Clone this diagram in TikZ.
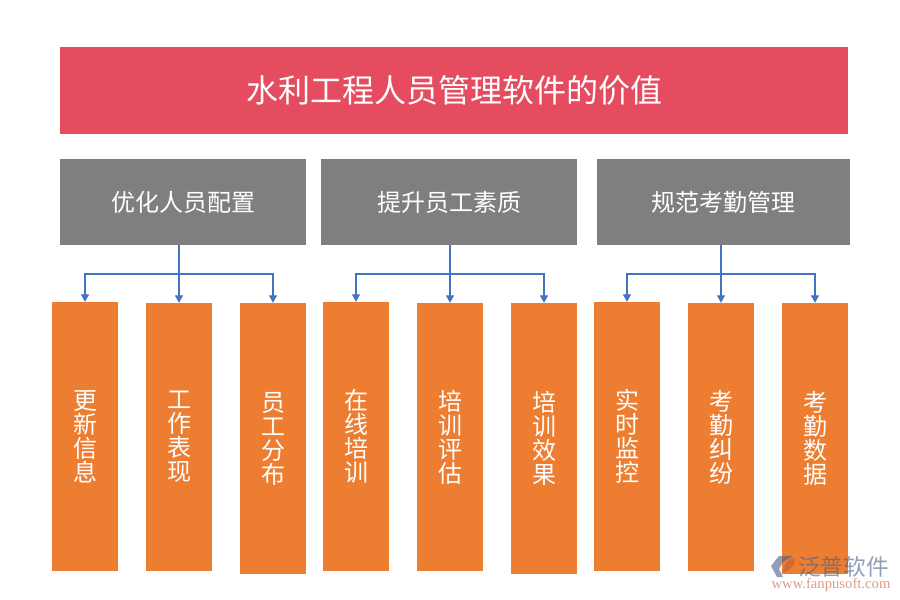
\documentclass[tikz,border=0pt]{standalone}
\usepackage{fontspec}
\setmainfont{Noto Sans CJK SC}
\setsansfont{Liberation Serif}
\usetikzlibrary{arrows.meta}
\definecolor{titlered}{RGB}{230,76,96}
\definecolor{headgray}{RGB}{127,127,127}
\definecolor{leaforange}{RGB}{237,125,49}
\definecolor{linkblue}{RGB}{68,114,196}
\definecolor{markblue}{RGB}{70,95,135}
\definecolor{markred}{RGB}{200,90,60}
\tikzset{
	headbox/.style = {fill = headgray, text = white, minimum height = 64.5pt, font = \fontsize{18}{18}\selectfont, inner sep = 0pt},
	leafbox/.style = {fill = leaforange, text = white, minimum width = 49.5pt, align = center, font = \fontsize{18}{18}\selectfont, inner sep = 0pt},
	link/.style = {draw = linkblue, line width = 0.8pt, -{Triangle[length = 5.5pt, width = 6pt]}}
}
\begin{document}
\begin{tikzpicture}[x = 0.75pt, y = -0.75pt]
		\useasboundingbox (0, 0) rectangle (900, 600);
		\fill [white] (0, 0) rectangle (900, 600);
		% Title
		\node [fill = titlered, text = white, minimum width = 591pt, minimum height = 65.25pt, inner sep = 0pt, font = \fontsize{24}{24}\selectfont] (title) at (454, 90.5) {水利工程人员管理软件的价值};
		% Heads
		\node [headbox, minimum width = 184.5pt] (headA) at (183, 202) {优化人员配置};
		\node [headbox, minimum width = 192pt] (headB) at (449, 202) {提升员工素质};
		\node [headbox, minimum width = 189.75pt] (headC) at (723.5, 202) {规范考勤管理};
		% Leaves
		\node [leafbox, minimum height = 201.75pt] (leafA) at (85, 436.5) {更\\新\\信\\息};
		\node [leafbox, minimum height = 201pt] (leafB) at (179, 437) {工\\作\\表\\现};
		\node [leafbox, minimum height = 203.25pt] (leafC) at (273, 438.5) {员\\工\\分\\布};
		\node [leafbox, minimum height = 201.75pt] (leafD) at (356, 436.5) {在\\线\\培\\训};
		\node [leafbox, minimum height = 201pt] (leafE) at (450, 437) {培\\训\\评\\估};
		\node [leafbox, minimum height = 203.25pt] (leafF) at (544, 438.5) {培\\训\\效\\果};
		\node [leafbox, minimum height = 201.75pt] (leafG) at (627, 436.5) {实\\时\\监\\控};
		\node [leafbox, minimum height = 201pt] (leafH) at (721, 437) {考\\勤\\纠\\纷};
		\node [leafbox, minimum height = 203.25pt] (leafI) at (815, 438.5) {考\\勤\\数\\据};
		% Links
		\coordinate (busA) at (179, 274);
		\coordinate (busB) at (450, 274);
		\coordinate (busC) at (721, 274);
		\draw [link] (busA |- headA.south) -- (busA) -| (leafA.north);
		\draw [link] (busA |- headA.south) -- (leafB.north);
		\draw [link] (busA |- headA.south) -- (busA) -| (leafC.north);
		\draw [link] (busB |- headB.south) -- (busB) -| (leafD.north);
		\draw [link] (busB |- headB.south) -- (leafE.north);
		\draw [link] (busB |- headB.south) -- (busB) -| (leafF.north);
		\draw [link] (busC |- headC.south) -- (busC) -| (leafG.north);
		\draw [link] (busC |- headC.south) -- (leafH.north);
		\draw [link] (busC |- headC.south) -- (busC) -| (leafI.north);
		% Mark
		\fill [color = markblue, opacity = 0.6] (771, 566) -- (779, 556) -- (793, 556) -- (783, 562) -- (779, 569) -- (783, 577) -- (777, 577) -- cycle;
		\fill [color = markred, opacity = 0.6] (783, 572) .. controls (784, 563) and (789, 558) .. (795, 558) .. controls (795, 566) and (790, 571) .. (783, 572);
		\node [text = markblue, opacity = 0.6, font = \fontsize{17}{17}\selectfont, inner sep = 0pt] (markname) at (843.5, 567) {泛普软件};
		\node [text = markred, opacity = 0.6, font = \sffamily\fontsize{11}{11}\selectfont, inner sep = 0pt] (markurl) at (831, 584.5) {www.fanpusoft.com};
	\end{tikzpicture}
\end{document}
